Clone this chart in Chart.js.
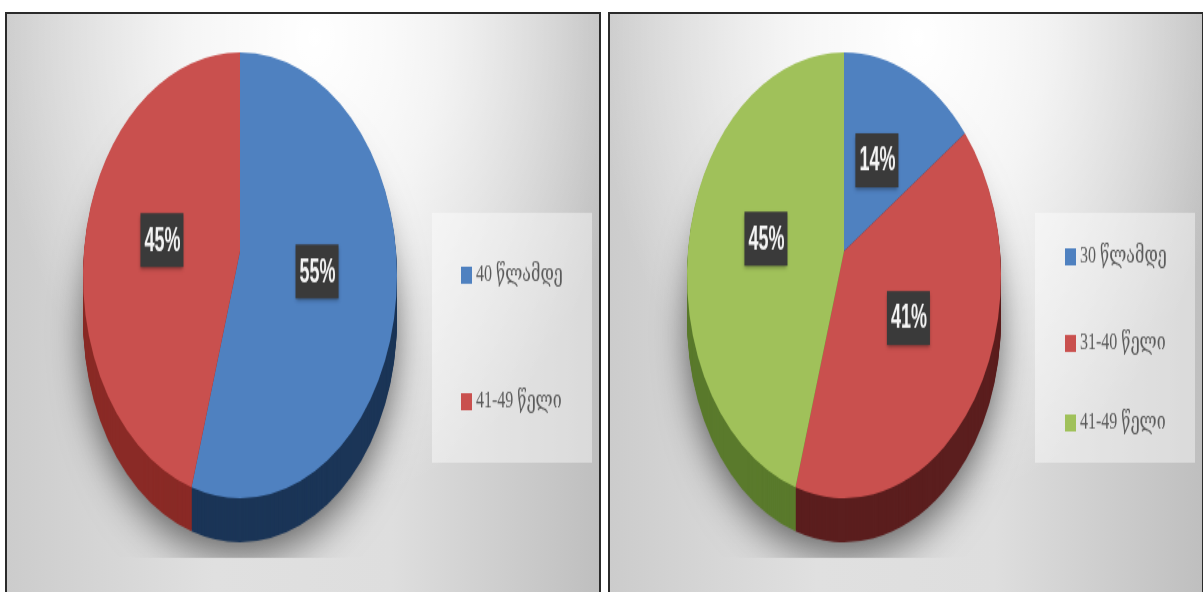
<!DOCTYPE html>
<html>
<head>
<meta charset="utf-8">
<script src="https://cdn.jsdelivr.net/npm/chart.js@4"></script>
<style>
    body { margin: 0; background: #fff; overflow: hidden; }
    .panel {
        position: absolute;
        top: 12px;
        width: 592px;
        height: 580px;
        overflow: hidden;
        border: 2px solid #2b2b2b;
        border-bottom: none;
        background:
            radial-gradient(ellipse 320px 470px at 52% 4%, rgba(255,255,255,1) 0%, rgba(255,255,255,.7) 40%, rgba(255,255,255,0) 100%),
            linear-gradient(90deg, #cccccc 0%, #e0e0e0 35%, #dedede 65%, #bfbfbf 100%);
    }
    #panelLeft { left: 5px; }
    #panelRight { left: 608px; }
    .stretch {
        position: absolute;
        left: 0;
        top: 0;
        width: 592px;
        height: 408px;
        transform-origin: 0 0;
        transform: scale(1, 1.42);
    }
</style>
</head>
<body>
<div class="panel" id="panelLeft"><div class="stretch"><canvas id="ageLeft"></canvas></div></div>
<div class="panel" id="panelRight"><div class="stretch"><canvas id="ageRight"></canvas></div></div>
<script>
const leftLabels = ['40 წლამდე', '41-49 წელი'];
const leftValues = [55, 45];
const leftColors = ['#4f81c0', '#c9504e'];
const leftWalls = ['#1b3557', '#8a2a26'];

const rightLabels = ['30 წლამდე', '31-40 წელი', '41-49 წელი'];
const rightValues = [14, 41, 45];
const rightColors = ['#4f81c0', '#c9504e', '#a0c15a'];
const rightWalls = ['#1b3557', '#5b1e1e', '#5a7a2c'];

const WALL_DEPTH = 31;
const APEX_LIFT = 17;

// tilted pie: shadow, side wall, then the top face with its apex lifted
const tiltPlugin = {
    id: 'tilt',
    beforeDatasetDraw(chart, args, opts) {
        const ctx = chart.ctx;
        const arcs = chart.getDatasetMeta(0).data;
        const cx = arcs[0].x;
        const cy = arcs[0].y;
        const r = arcs[0].outerRadius;

        ctx.save();
        ctx.beginPath();
        ctx.rect(0, 0, chart.width, 383);
        ctx.clip();
        ctx.shadowColor = 'rgba(0,0,0,.62)';
        ctx.shadowBlur = 34;
        ctx.shadowOffsetY = 10;
        ctx.fillStyle = '#555';
        ctx.beginPath();
        ctx.arc(cx, cy + WALL_DEPTH, r - 2, 0, Math.PI * 2);
        ctx.fill();
        ctx.restore();

        for (let d = WALL_DEPTH; d > 0; d--) {
            arcs.forEach(function (arc, i) {
                ctx.fillStyle = opts.walls[i];
                ctx.beginPath();
                ctx.moveTo(cx, cy + d);
                ctx.arc(cx, cy + d, r, arc.startAngle, arc.endAngle);
                ctx.closePath();
                ctx.fill();
            });
        }

        arcs.forEach(function (arc) {
            ctx.fillStyle = arc.options.backgroundColor;
            ctx.beginPath();
            ctx.moveTo(cx, cy - APEX_LIFT);
            ctx.arc(cx, cy, r, arc.startAngle, arc.endAngle);
            ctx.closePath();
            ctx.fill();
        });
        return false;
    }
};

// percent labels on dark boxes
const valueBoxPlugin = {
    id: 'valueBox',
    afterDatasetsDraw(chart, args, opts) {
        const ctx = chart.ctx;
        const values = chart.data.datasets[0].data;
        chart.getDatasetMeta(0).data.forEach(function (arc, i) {
            const p = arc.getCenterPoint();
            const y = p.y + opts.nudge[i];
            ctx.save();
            ctx.shadowColor = 'rgba(0,0,0,.35)';
            ctx.shadowBlur = 3;
            ctx.shadowOffsetY = 2;
            ctx.fillStyle = '#3a3a3a';
            ctx.fillRect(p.x - 22, y - 19, 43, 38);
            ctx.restore();
            ctx.fillStyle = '#f4f4f4';
            ctx.font = 'bold 23px "Liberation Sans"';
            ctx.textAlign = 'center';
            ctx.textBaseline = 'middle';
            ctx.fillText(values[i] + '%', p.x, y + 1, 36);
        });
    }
};

// legend in its pale box beside the pie
const sideLegendPlugin = {
    id: 'sideLegend',
    afterDraw(chart, args, opts) {
        const ctx = chart.ctx;
        ctx.fillStyle = 'rgba(255,255,255,.42)';
        ctx.fillRect(opts.boxX, 140, 160, 176);
        chart.data.labels.forEach(function (label, i) {
            const y = opts.rows[i];
            ctx.fillStyle = chart.data.datasets[0].backgroundColor[i];
            ctx.fillRect(opts.markerX, y - 6, 11, 12);
            ctx.fillStyle = '#5a5a5a';
            ctx.font = '16px "Liberation Serif", "DejaVu Serif"';
            ctx.textAlign = 'left';
            ctx.textBaseline = 'middle';
            ctx.fillText(label, opts.markerX + 15, y, 90);
        });
    }
};

function createChart(id, labels, values, colors, walls, padLeft, nudge, legend) {
    return new Chart(document.getElementById(id), {
        type: 'pie',
        data: {
            labels: labels,
            datasets: [{
                data: values,
                backgroundColor: colors,
                borderWidth: 0
            }]
        },
        options: {
            responsive: false,
            animation: false,
            layout: {
                padding: { left: padLeft, right: 278 - padLeft, top: 27, bottom: 67 }
            },
            plugins: {
                legend: { display: false },
                tooltip: { enabled: false },
                tilt: { walls: walls },
                valueBox: { nudge: nudge },
                sideLegend: legend
            }
        },
        plugins: [tiltPlugin, valueBoxPlugin, sideLegendPlugin]
    });
}

for (const c of document.querySelectorAll('canvas')) {
    c.width = 592;
    c.height = 408;
}

createChart('ageLeft', leftLabels, leftValues, leftColors, leftWalls, 76, [-15, -12.5], {
    boxX: 425, markerX: 454, rows: [184, 273]
});
createChart('ageRight', rightLabels, rightValues, rightColors, rightWalls, 77, [-10, -14, -13.5], {
    boxX: 425, markerX: 455, rows: [171, 232, 288]
});
</script>
</body>
</html>
